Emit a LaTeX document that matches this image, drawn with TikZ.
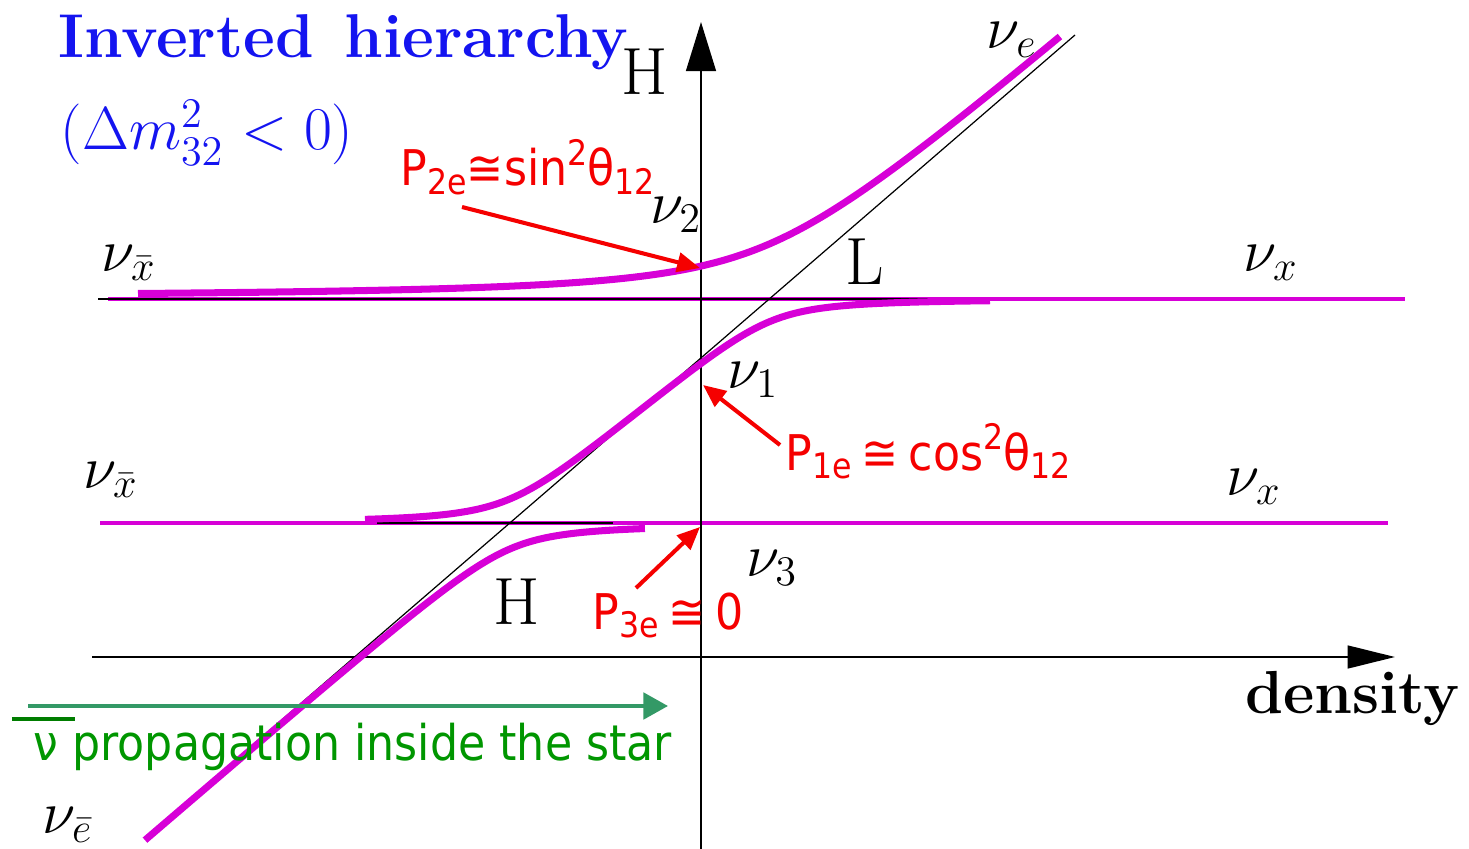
\documentclass[tikz,border=0pt]{standalone}
\usepackage{fontspec}
\newfontfamily\cs[FakeStretch=0.9]{DejaVu Sans}
\usetikzlibrary{arrows.meta}
\definecolor{mag}{RGB}{215,0,215}
\definecolor{tblue}{RGB}{20,20,240}
\definecolor{tred}{RGB}{245,0,0}
\definecolor{tgreen}{RGB}{0,150,0}
\definecolor{agreen}{RGB}{51,153,102}
\definecolor{bargreen}{RGB}{0,125,0}
\newcommand\rsb[1]{\raisebox{-0.3ex}{\fontsize{10}{10}\selectfont #1}}
\newcommand\rsp[1]{\raisebox{0.75ex}{\fontsize{10}{10}\selectfont #1}}
\begin{document}
\begin{tikzpicture}[x=1cm,y=-1cm,
  declare function={
    Dg(\x)=8.38-0.8634*(\x-1.45);
    up(\x)=(Dg(\x)+2.99)/2-sqrt((Dg(\x)-2.99)*(Dg(\x)-2.99)/4+0.3025);
    mid(\x)=Dg(\x)+(2.99-Dg(\x))/2+sqrt((Dg(\x)-2.99)*(Dg(\x)-2.99)/4+0.0676)+(5.23-Dg(\x))/2-sqrt((Dg(\x)-5.23)*(Dg(\x)-5.23)/4+0.0729);
    low(\x)=(Dg(\x)+5.23)/2+sqrt((Dg(\x)-5.23)*(Dg(\x)-5.23)/4+0.0676);
  },
  axis/.style={line width=0.6pt},
  level/.style={line width=0.55pt},
  thinmag/.style={mag,line width=1.15pt},
  thickmag/.style={mag,line width=2pt},
  diag/.style={line width=0.35pt},
  redarrow/.style={tred,line width=1.15pt,-{Triangle[length=6.5pt,width=5.5pt]}},
  mlab/.style={font=\fontsize{17}{20}\selectfont},
  rlab/.style={font=\fontsize{19}{22}\selectfont},
  redlab/.style={anchor=base west,text=tred,font=\cs\fontsize{14}{16}\selectfont,inner sep=0pt},
]
\useasboundingbox (0,0) rectangle (14.69,8.49);

% coordinates
\coordinate (yb) at (7.01,8.49);
\coordinate (yt) at (7.01,0.22);
\coordinate (xl) at (0.92,6.57);
\coordinate (xr) at (13.95,6.57);
\coordinate (dl) at (1.45,8.38);
\coordinate (dr) at (10.75,0.35);
\coordinate (ul) at (0.98,2.99);
\coordinate (ur) at (9.83,2.99);
\coordinate (uml) at (1.08,2.99);
\coordinate (umr) at (14.05,2.99);
\coordinate (ll) at (3.77,5.23);
\coordinate (lr) at (6.13,5.23);
\coordinate (lml) at (1.00,5.23);
\coordinate (lmr) at (13.88,5.23);

% thin magenta levels
\draw[thinmag] (uml) -- (umr);
\draw[thinmag] (lml) -- (lmr);
% black unperturbed levels
\draw[level] (ul) -- (ur);
\draw[level] (ll) -- (lr);
% diagonal
\draw[diag] (dl) -- (dr);

% axes
\draw[axis,-{Triangle[length=14pt,width=8.5pt]}] (yb) -- (yt);
\draw[axis,-{Triangle[length=13.5pt,width=6.5pt]}] (xl) -- (xr);

% eigenvalue curves
\draw[thickmag] plot[domain=1.38:10.6,samples=160,smooth] (\x,{up(\x)});
\draw[thickmag] plot[domain=3.65:9.9,samples=160,smooth] (\x,{mid(\x)});
\draw[thickmag] plot[domain=1.45:6.45,samples=140,smooth] (\x,{low(\x)});

% title
\node[anchor=base west,text=tblue,inner sep=0pt,font=\fontsize{17.6}{21}\selectfont\bfseries] (title) at (0.58,0.58) {Inverted\hspace{0.5em}hierarchy};
\node[anchor=base west,text=tblue,inner sep=0pt,font=\fontsize{18}{21}\selectfont] (cond) at (0.60,1.50) {$(\Delta m^2_{32}<0)$};

% axis labels
\node[rlab] (Htop) at (6.45,0.72) {H};
\node[rlab] (Lbl) at (8.65,2.62) {L};
\node[rlab] (Hlow) at (5.17,6.02) {H};
\node[anchor=base west,inner sep=0pt,font=\fontsize{17.3}{20}\selectfont\bfseries] (dens) at (12.45,7.13) {density};

% neutrino labels
\node[mlab] (nu2) at (6.76,2.15) {$\nu_2$};
\node[mlab] (nu1) at (7.53,3.80) {$\nu_1$};
\node[mlab] (nu3) at (7.72,5.68) {$\nu_3$};
\node[mlab] (nue) at (10.12,0.40) {$\nu_e$};
\node[mlab] (nuxb1) at (1.29,2.63) {$\nu_{\bar{x}}$};
\node[mlab] (nuxb2) at (1.11,4.80) {$\nu_{\bar{x}}$};
\node[mlab] (nux1) at (12.71,2.63) {$\nu_x$};
\node[mlab] (nux2) at (12.54,4.87) {$\nu_x$};
\node[mlab] (nueb) at (0.68,8.25) {$\nu_{\bar{e}}$};

% red annotations
\node[redlab] (P2) at (4.00,1.86) {P\rsb{2e}≅sin\rsp{2}θ\rsb{12}};
\node[redlab] (P1) at (7.85,4.70) {P\rsb{1e}\hspace{0.2em}≅\hspace{0.2em}cos\rsp{2}θ\rsb{12}};
\node[redlab] (P3) at (5.92,6.29) {P\rsb{3e}\hspace{0.2em}≅\hspace{0.2em}0};
\coordinate (a2s) at (4.62,2.07);
\coordinate (a2e) at (7.00,2.68);
\coordinate (a1s) at (7.80,4.45);
\coordinate (a1e) at (7.03,3.85);
\coordinate (a3s) at (6.36,5.88);
\coordinate (a3e) at (7.00,5.27);
\draw[redarrow] (a2s) -- (a2e);
\draw[redarrow] (a1s) -- (a1e);
\draw[redarrow] (a3s) -- (a3e);

% green propagation arrow and text
\coordinate (gs) at (0.28,7.06);
\coordinate (ge) at (6.68,7.06);
\draw[agreen,line width=1.15pt,-{Triangle[length=7pt,width=7.5pt]}] (gs) -- (ge);
\node[anchor=base west,text=tgreen,inner sep=0pt,font=\cs\fontsize{14}{16}\selectfont] (prop) at (0.33,7.60) {ν propagation inside the star};
\coordinate (bl) at (0.12,7.19);
\coordinate (br) at (0.75,7.19);
\draw[bargreen,line width=1.15pt] (bl) -- (br);
\end{tikzpicture}
\end{document}
